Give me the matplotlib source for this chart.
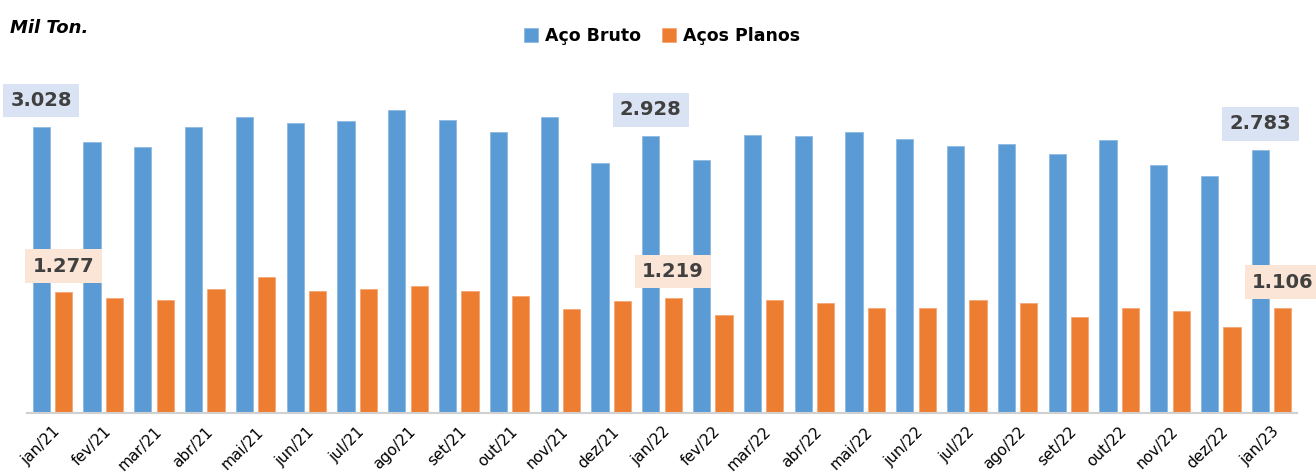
import numpy as np
import matplotlib.pyplot as plt

meses = ["jan/21", "fev/21", "mar/21", "abr/21", "mai/21", "jun/21", "jul/21",
         "ago/21", "set/21", "out/21", "nov/21", "dez/21", "jan/22", "fev/22",
         "mar/22", "abr/22", "mai/22", "jun/22", "jul/22", "ago/22", "set/22",
         "out/22", "nov/22", "dez/22", "jan/23"]

aco_bruto = [3028, 2868, 2815, 3028, 3134, 3070, 3091, 3209, 3102, 2974, 3134,
             2644, 2928, 2676, 2942, 2932, 2974, 2900, 2825, 2846, 2740, 2889,
             2622, 2505, 2783]

acos_planos = [1277, 1215, 1194, 1311, 1439, 1290, 1311, 1343, 1290, 1237, 1098,
               1183, 1219, 1034, 1194, 1162, 1109, 1109, 1194, 1162, 1013, 1109,
               1077, 906, 1106]

# meses com rotulo de valor
destaque = [0, 12, 24]

azul = "#5b9bd5"
laranja = "#ed7d31"

fig = plt.figure(figsize=(13.16, 4.75), dpi=100)
ax = fig.add_axes([27 / 1316, 1 - 413 / 475, 1270 / 1316, 331 / 475])

x = np.arange(len(meses))
w = 0.34
ax.bar(x - 0.22, aco_bruto, w, color=azul, edgecolor="#8fb9e3", linewidth=0.6, label="Aço Bruto")
ax.bar(x + 0.22, acos_planos, w, color=laranja, edgecolor="#f4a775", linewidth=0.6, label="Aços Planos")

for i in destaque:
    ax.annotate(f"{aco_bruto[i]:,}".replace(",", "."), (x[i] - 0.22, aco_bruto[i]),
                xytext=(0, 12), textcoords="offset points", ha="center", va="bottom",
                fontsize=14, fontweight="bold", color="#404040",
                bbox=dict(boxstyle="square,pad=0.38", fc="#dae3f3", ec="none"))
    ax.annotate(f"{acos_planos[i]:,}".replace(",", "."), (x[i] + 0.22, acos_planos[i]),
                xytext=(0, 12), textcoords="offset points", ha="center", va="bottom",
                fontsize=14, fontweight="bold", color="#404040",
                bbox=dict(boxstyle="square,pad=0.38", fc="#fbe5d6", ec="none"))

ax.set_xlim(-0.5, len(meses) - 0.5)
ax.set_ylim(0, 3500)
ax.set_xticks(x)
ax.set_xticklabels(meses, rotation=45, ha="right", rotation_mode="anchor", fontsize=11)
ax.tick_params(axis="x", length=0, pad=8)
ax.set_yticks([])
for s in ["top", "right", "left"]:
    ax.spines[s].set_visible(False)
ax.spines["bottom"].set_color("#d0d0d0")
ax.spines["bottom"].set_linewidth(1.5)

fig.text(10 / 1316, 1 - 28 / 475, "Mil Ton.", fontsize=13, fontweight="bold",
         fontstyle="italic", va="center")
fig.legend(loc="center", bbox_to_anchor=(662 / 1316, 1 - 36 / 475), ncol=2, frameon=False,
           prop={"weight": "bold", "size": 12.5}, handlelength=0.8, handleheight=0.8,
           columnspacing=1.2, handletextpad=0.4)

fig.savefig("out.png", dpi=100)
